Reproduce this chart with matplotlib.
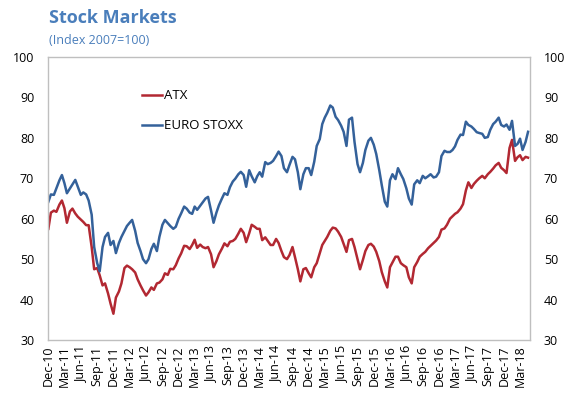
import matplotlib
matplotlib.use("Agg")
import matplotlib.pyplot as plt
import matplotlib.dates as mdates
import pandas as pd

plt.rcParams['font.family'] = ['Open Sans', 'DejaVu Sans']

# Semi-monthly observation dates (1st and 15th of each month)
dates = pd.date_range('2010-12-01', '2018-04-15', freq='SMS')

atx = [
    57.5, 61.5, 62.0, 61.7, 63.5, 64.5, 62.6, 59.0, 61.8, 62.5, 61.3, 60.5,
    59.8, 59.2, 58.4, 58.4, 53.0, 47.5, 47.8, 46.0, 43.5, 44.0, 41.5, 39.0,
    36.5, 40.5, 42.0, 44.0, 47.8, 48.4, 48.0, 47.5, 46.7, 45.0, 43.5, 42.3,
    41.0, 41.8, 43.0, 42.4, 44.0, 44.2, 45.0, 46.5, 46.1, 47.6, 47.5, 48.5,
    50.2, 51.4, 53.3, 53.2, 52.5, 53.5, 54.8, 52.8, 53.6, 53.0, 52.7, 53.0,
    51.2, 48.0, 49.5, 51.2, 52.6, 53.9, 53.2, 54.3, 54.5, 55.0, 56.3, 57.5,
    56.5, 54.2, 56.4, 58.5, 58.0, 57.5, 57.5, 54.7, 55.4, 54.5, 53.5, 53.5,
    55.0, 54.0, 52.0, 50.5, 50.0, 51.0, 53.0, 50.5, 47.5, 44.5, 47.5, 47.8,
    46.5, 45.5, 48.0, 49.0, 51.5, 53.5, 54.5, 55.5, 57.0, 57.8, 57.6, 56.8,
    55.5, 53.8, 51.8, 54.7, 55.0, 53.0, 50.0, 47.5, 49.8, 52.0, 53.5, 53.8,
    53.1, 51.8, 49.5, 46.8, 44.5, 43.0, 48.0, 49.2, 50.6, 50.6, 49.0, 48.5,
    48.0, 45.5, 44.0, 48.0, 49.3, 50.6, 51.3, 51.8, 52.7, 53.3, 54.0, 54.6,
    55.5, 57.3, 57.6, 58.5, 60.0, 60.6, 61.2, 61.6, 62.5, 63.6, 67.0, 69.0,
    67.6, 68.6, 69.4, 70.0, 70.6, 70.0, 71.0, 71.6, 72.4, 73.2, 73.8, 72.6,
    72.0, 71.3, 77.5, 79.5, 74.3, 75.2, 75.7, 74.5, 75.3, 75.1,
]

euro_stoxx = [
    64.2, 66.0, 65.9, 67.5, 69.5, 70.8, 68.8, 66.3, 67.5, 68.5, 69.6, 67.9,
    65.9, 66.5, 66.0, 64.5, 61.0, 53.0, 49.0, 47.0, 53.0, 55.5, 56.5, 53.5,
    54.5, 51.5, 54.0, 55.5, 57.0, 58.2, 59.0, 59.7, 57.0, 54.0, 52.0, 50.0,
    49.0, 50.0, 52.5, 53.8, 52.0, 55.5, 58.5, 59.7, 58.9, 58.2, 57.5, 58.0,
    60.0, 61.3, 63.0, 62.5, 61.5, 61.2, 63.0, 62.2, 63.2, 64.0, 65.0, 65.4,
    62.0, 59.0, 61.5, 63.3, 65.0, 66.3, 65.9, 67.8, 69.2, 69.9, 71.0, 71.6,
    70.8, 67.9, 72.0, 70.5, 69.0, 70.5, 71.5, 70.4, 74.0, 73.5, 73.8, 74.3,
    75.5, 76.6, 75.5, 72.5, 71.5, 73.3, 75.3, 74.7, 71.5, 67.3, 71.0, 72.5,
    72.5, 70.8, 74.1, 78.0, 79.7, 83.4, 85.0, 86.2, 88.0, 87.5, 85.2, 84.4,
    83.0, 81.5, 78.0, 84.5, 85.0, 79.0, 73.5, 71.5, 73.8, 77.0, 79.3, 80.0,
    78.3, 76.0, 72.0, 68.3, 64.2, 63.0, 69.5, 71.0, 69.8, 72.5, 71.0, 69.8,
    67.5, 65.0, 63.5, 68.5, 69.5, 68.8, 70.6, 70.0, 70.5, 71.0, 70.2, 70.4,
    71.5, 75.5, 76.8, 76.5, 76.5, 77.0, 77.9, 79.5, 80.8, 80.7, 84.0, 83.2,
    82.8, 82.2, 81.4, 81.2, 81.0, 80.0, 80.2, 82.0, 83.4, 84.0, 85.0, 83.2,
    82.8, 83.3, 82.0, 84.2, 78.0, 78.5, 79.8, 77.0, 79.0, 81.5,
]

y_ticks = [30, 40, 50, 60, 70, 80, 90, 100]

n = min(len(dates), len(atx), len(euro_stoxx))
dates = dates[:n]
atx = atx[:n]
euro_stoxx = euro_stoxx[:n]

RED = '#B22832'
BLUE = '#34619A'
TITLE = '#4A7EBB'

fig = plt.figure(figsize=(5.73, 4.0), dpi=100)
ax = fig.add_axes([0.0838, 0.15, 0.925 - 0.0838, 0.7075])

ax.plot(dates, atx, color=RED, lw=1.8, label='ATX')
ax.plot(dates, euro_stoxx, color=BLUE, lw=1.8, label='EURO STOXX')

ax.set_ylim(30, 100)
ax.set_yticks(y_ticks)
ax.set_xlim(pd.Timestamp('2010-11-29'), pd.Timestamp('2018-04-26'))
ax.xaxis.set_major_locator(mdates.MonthLocator(bymonth=[3, 6, 9, 12]))
ax.xaxis.set_major_formatter(mdates.DateFormatter('%b-%y'))

ax.tick_params(axis='x', rotation=90, length=0, labelsize=9, pad=4)
ax.tick_params(axis='y', length=0, labelsize=9, pad=10,
               labelleft=True, labelright=True)

for sp in ax.spines.values():
    sp.set_color('#BFBFBF')
    sp.set_linewidth(1.0)

leg = ax.legend(loc='upper left', bbox_to_anchor=(0.185, 0.905), frameon=False,
                fontsize=9.5, handlelength=1.5, handletextpad=0.1,
                labelspacing=1.3, borderaxespad=0)

fig.text(0.085, 0.955, 'Stock Markets', fontsize=13, fontweight='bold',
         color=TITLE, va='center', ha='left')
fig.text(0.085, 0.898, '(Index 2007=100)', fontsize=9, color=TITLE,
         va='center', ha='left')

fig.savefig('out.png', dpi=100)
